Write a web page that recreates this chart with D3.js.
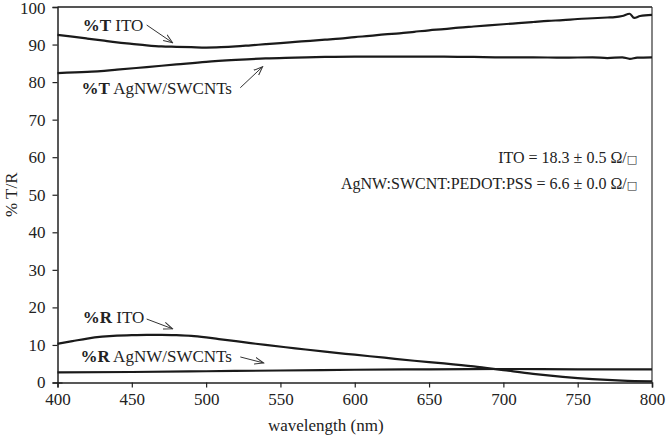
<!DOCTYPE html>
<html><head><meta charset="utf-8">
<script src="https://cdn.jsdelivr.net/npm/d3@7"></script>
<style>body{margin:0;background:#fff}svg{display:block}</style>
</head><body>
<svg id="c" width="666" height="436"></svg>
<script>
// ---- data ----
const tItoWl   = [400,410,420,430,440,450,460,470,480,490,500,510,520,530,540,550,560,570,580,590,600,610,620,630,640,650,660,670,680,690,700,710,720,730,740,750,760,770,775,780,785,788,792,800];
const tItoVal  = [92.6,92.1,91.6,91.1,90.6,90.2,89.8,89.5,89.4,89.3,89.2,89.3,89.5,89.8,90.1,90.4,90.7,91.0,91.3,91.6,92.0,92.3,92.7,93.0,93.4,93.8,94.1,94.5,94.8,95.1,95.4,95.7,96.0,96.3,96.5,96.8,97.0,97.2,97.3,97.6,98.2,97.1,97.6,97.9];
const tAgWl    = [400,420,440,460,480,500,520,540,560,580,600,620,640,660,680,700,720,740,760,770,780,785,790,800];
const tAgVal   = [82.4,82.7,83.3,84.0,84.7,85.4,85.9,86.3,86.5,86.7,86.8,86.8,86.8,86.8,86.7,86.6,86.6,86.5,86.6,86.4,86.6,86.2,86.5,86.6];
const rItoWl   = [400,410,420,430,440,450,460,470,480,490,500,510,520,530,540,560,580,600,620,640,660,680,700,720,740,760,780,800];
const rItoVal  = [10.3,11.0,11.7,12.2,12.5,12.6,12.7,12.7,12.6,12.4,12.0,11.5,11.0,10.5,10.0,9.1,8.2,7.4,6.6,5.8,5.1,4.3,3.3,2.3,1.5,0.9,0.5,0.3];
const rAgWl    = [400,450,500,550,600,650,700,750,800];
const rAgVal   = [2.7,2.8,3.0,3.2,3.4,3.5,3.6,3.5,3.5];
const xTicks   = [400,450,500,550,600,650,700,750,800];
const yTicks   = [0,10,20,30,40,50,60,70,80,90,100];
// annotation labels: [bold, normal, wavelength, value]
const labels = [["%T"," ITO",417,93.7],["%T"," AgNW/SWCNTs",416.2,76.9],["%R"," ITO",417,15.9],["%R"," AgNW/SWCNTs",415.5,5.5]];
// arrows: [fromWl, fromVal, toWl, toVal]
const arrows = [[460,95.2,477.4,90.5],[523,78.5,538,84.1],[460,16.9,477.4,14.3],[523,6.8,538.7,5.2]];
const sheetRes = [["ITO = 18.3 ± 0.5 Ω/",790,58.5],["AgNW:SWCNT:PEDOT:PSS = 6.6 ± 0.0 Ω/",790,51.6]];

// ---- chart ----
const svg = d3.select("#c");
const L=57.5, R=652, T=7, B=382.5;
const x = d3.scaleLinear().domain([400,800]).range([L,R]);
const y = d3.scaleLinear().domain([0,100]).range([B,T]);
const font = "'Liberation Serif', 'DejaVu Serif', Tinos, 'Noto Serif', 'Times New Roman', Times, FreeSerif, 'Nimbus Roman', serif";

// frame top/right
svg.append("line").attr("x1",L).attr("x2",R).attr("y1",T).attr("y2",T).attr("stroke","#555").attr("stroke-width",2);
svg.append("line").attr("x1",R).attr("x2",R).attr("y1",T).attr("y2",B).attr("stroke","#333").attr("stroke-width",1.2);

const xa = svg.append("g").attr("transform",`translate(0,${B})`)
  .call(d3.axisBottom(x).tickValues(xTicks).tickSize(5).tickPadding(5).tickFormat(d3.format("d")));
const ya = svg.append("g").attr("transform",`translate(${L},0)`)
  .call(d3.axisLeft(y).tickValues(yTicks).tickSize(5).tickPadding(7).tickFormat(d3.format("d")));
[xa,ya].forEach(a=>{
  a.attr("font-family",null).attr("font-size",null);
  a.select(".domain").attr("stroke","#222").attr("stroke-width",1.5);
  a.selectAll(".tick line").attr("stroke","#222").attr("stroke-width",1.2);
  a.selectAll("text").style("font-family",font).attr("font-size",17).attr("fill","#222");
});
ya.select(".tick line").attr("x2",5).attr("x1",-5);
ya.selectAll(".tick text").filter(d=>d===100).attr("dy","0.4em");

const line = d3.line().x(d=>x(d[0])).y(d=>y(d[1])).curve(d3.curveMonotoneX);
[[tItoWl,tItoVal],[tAgWl,tAgVal],[rItoWl,rItoVal],[rAgWl,rAgVal]].forEach(([w,v])=>{
  svg.append("path").datum(w.map((d,i)=>[d,v[i]])).attr("d",line)
    .attr("fill","none").attr("stroke","#1a1a1a").attr("stroke-width",2.2).attr("stroke-linejoin","round");
});

// labels
labels.forEach(l=>{
  const t = svg.append("text").attr("x",x(l[2])).attr("y",y(l[3]))
    .style("font-family",font).attr("font-size",17).attr("fill","#222");
  t.append("tspan").attr("font-weight","bold").text(l[0]);
  t.append("tspan").text(l[1]);
});

// arrows
svg.append("defs").append("marker").attr("id","ah").attr("viewBox","0 0 10 10")
  .attr("refX",9).attr("refY",5).attr("markerWidth",10).attr("markerHeight",10)
  .attr("markerUnits","userSpaceOnUse").attr("orient","auto")
  .append("path").attr("d","M0,1.5 L9,5 L0,8.5").attr("fill","none").attr("stroke","#333").attr("stroke-width",1);
arrows.forEach(a=>{
  svg.append("line").attr("x1",x(a[0])).attr("y1",y(a[1])).attr("x2",x(a[2])).attr("y2",y(a[3]))
    .attr("stroke","#333").attr("stroke-width",1).attr("marker-end","url(#ah)");
});

// sheet resistance text
sheetRes.forEach(s=>{
  const t = svg.append("text").attr("x",x(s[1])).attr("y",y(s[2])).attr("text-anchor","end")
    .style("font-family",font).attr("font-size",16).attr("fill","#222");
  t.append("tspan").text(s[0]);
  t.append("tspan").style("font-family","'DejaVu Sans', sans-serif").attr("font-size",11).text("□");
});

// axis titles
svg.append("text").attr("x",(L+R)/2-29).attr("y",431).attr("text-anchor","middle")
  .style("font-family",font).attr("font-size",17).attr("fill","#222").text("wavelength (nm)");
svg.append("text").attr("transform",`translate(17,${y(50)}) rotate(-90)`).attr("text-anchor","middle")
  .style("font-family",font).attr("font-size",17).attr("fill","#222").text("% T/R");
</script>
</body></html>
